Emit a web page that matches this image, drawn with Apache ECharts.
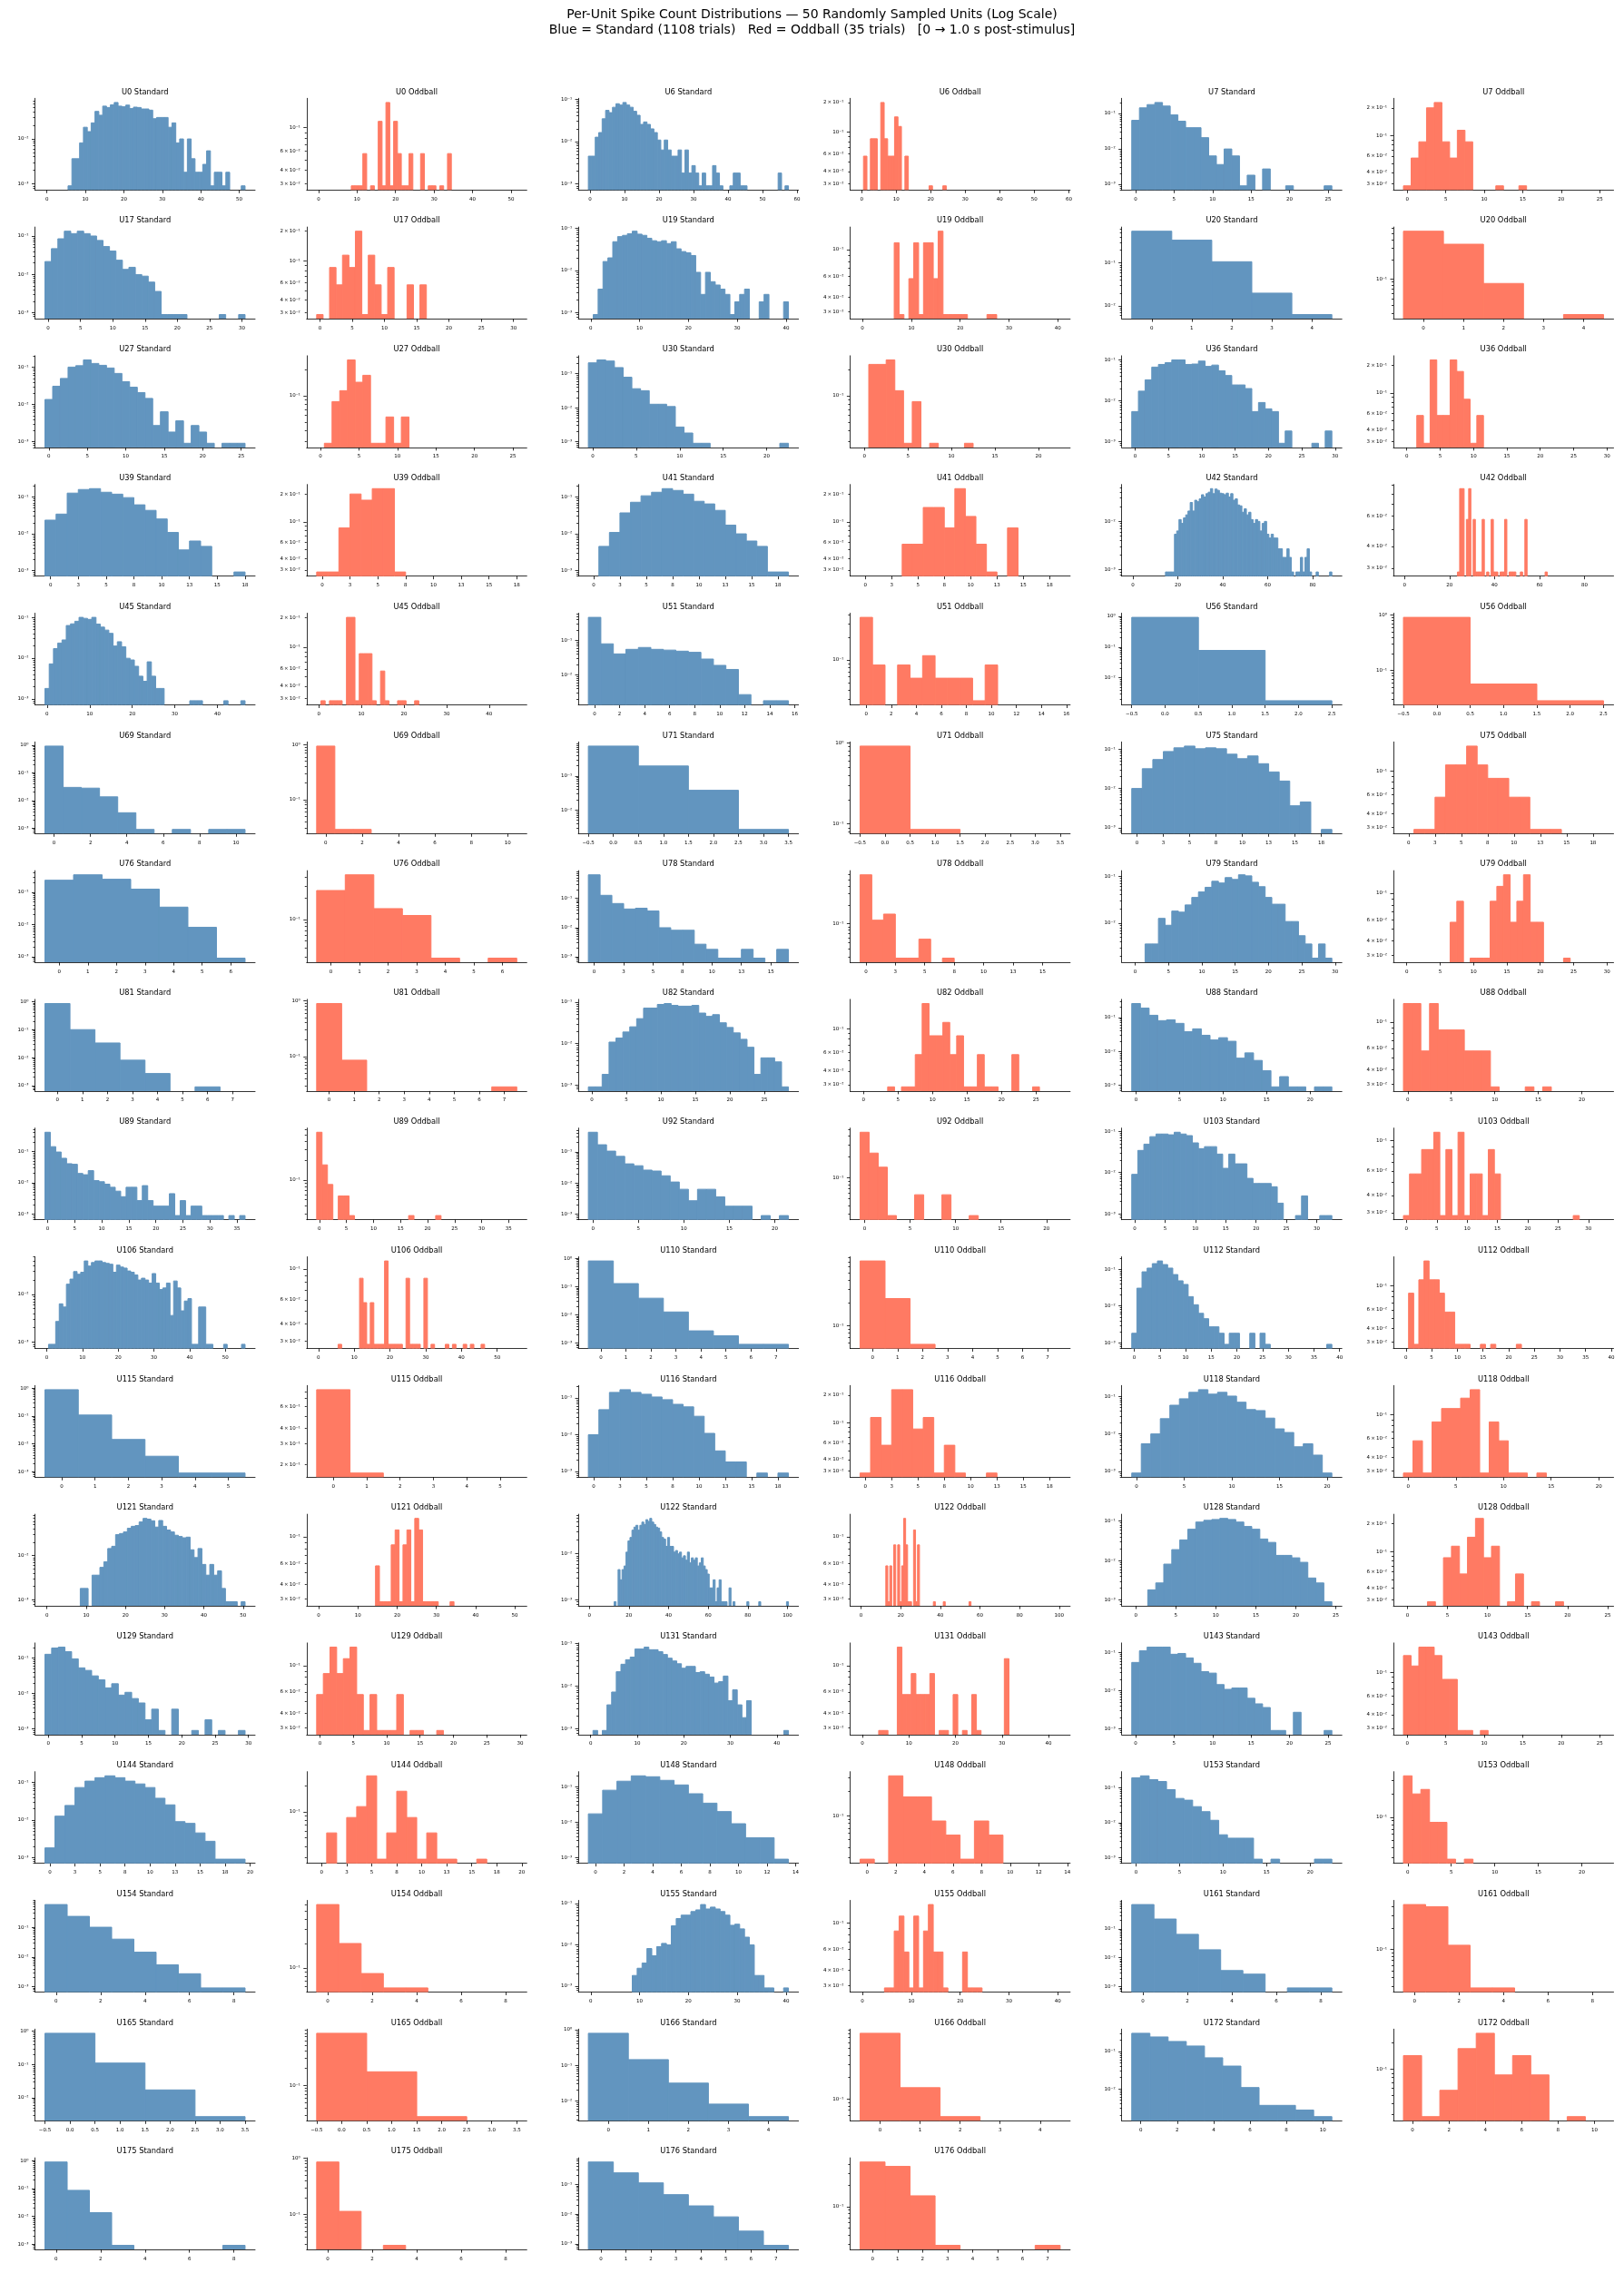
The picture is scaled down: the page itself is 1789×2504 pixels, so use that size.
<!DOCTYPE html>
<html>
<head>
<meta charset="utf-8">
<script src="https://cdn.jsdelivr.net/npm/echarts@6/dist/echarts.min.js"></script>
<style>
  html, body { margin: 0; padding: 0; background: #fff; }
  #chart { width: 1789px; height: 2504px; }
</style>
</head>
<body>
<div id="chart"></div>
<script>
// trials per condition
const nStd = 1108
const nOdd = 35

const unitIds = [0, 6, 7, 17, 19, 20, 27, 30, 36, 39, 41, 42, 45, 51, 56, 69, 71, 75, 76, 78, 79, 81, 82, 88, 89,
  92, 103, 106, 110, 112, 115, 116, 118, 121, 122, 128, 129, 131, 143, 144, 148, 153, 154, 155, 161, 165, 166, 172, 175, 176]
// x tick spacing of each unit (both panels share it)
const xTickSteps = [10, 10, 5, 5, 10, 1, 5, 5, 5, 2.5, 2.5, 20, 10, 2, 0.5, 2, 0.5, 2.5, 1, 2.5, 5, 1, 5, 5, 5,
  5, 5, 10, 1, 5, 1, 2.5, 5, 10, 20, 5, 5, 10, 5, 2.5, 2, 5, 2, 10, 2, 0.5, 1, 2, 2, 1]

// spike-count histograms: trials per count, index = spike count (0, 1, 2, ...)
const u0Std = [0,0,0,0,0,0,1,4,4,9,20,16,25,45,37,59,55,63,71,59,57,62,52,56,55,51,51,48,31,33,33,33,20,25,9,11,2,11,4,2,2,3,6,1,2,2,1,2,0,0,0,1]
const u0Odd = [0,0,0,0,0,0,0,0,0,1,1,1,2,0,1,0,4,1,6,1,4,2,1,1,2,0,0,2,0,1,1,0,1,0,2]
const u6Std = [5,5,14,18,38,60,53,71,86,80,92,80,71,57,46,28,32,28,22,18,12,7,12,7,5,5,7,2,7,2,3,2,1,2,1,1,3,2,1,0,0,1,2,2,1,1,0,0,0,0,0,0,0,0,0,2,0,1]
const u6Odd = [0,2,0,3,3,0,7,3,2,2,5,4,0,2,0,0,0,0,0,0,1,0,0,0,1]
const u7Std = [71,160,198,227,180,101,67,44,44,23,7,4,11,7,1,2,0,3,0,0,1,0,0,0,0,1]
const u7Odd = [1,2,3,7,8,3,2,4,3,0,0,0,1,0,0,1]
const u17Std = [24,52,94,148,128,148,128,111,85,59,45,26,15,17,11,10,7,4,1,1,1,1,0,0,0,0,0,1,0,0,1]
const u17Odd = [1,0,3,2,4,3,7,1,4,2,1,3,0,0,2,0,2]
const u19Std = [0,1,4,18,22,53,70,75,82,94,80,75,64,56,53,56,48,53,36,31,29,25,10,3,10,6,5,4,3,1,2,3,4,0,0,2,3,0,0,0,2]
const u19Odd = [0,0,0,0,0,0,0,4,1,0,2,4,1,4,4,2,5,1,1,1,1,1,0,0,0,0,1,1]
const u20Std = [604,374,118,22,7]
const u20Odd = [19,12,3,0,1]
const u27Std = [15,34,55,111,121,173,139,124,105,75,45,32,23,16,3,7,2,4,1,3,2,1,0,1,1,1]
const u27Odd = [0,1,3,4,9,5,6,1,1,2,1,2]
const u30Std = [230,280,260,167,87,40,35,14,14,12,3,2,1,1,0,0,0,0,0,0,0,0,1]
const u30Odd = [0,8,8,9,4,1,3,0,1,0,0,0,1]
const u36Std = [6,19,36,74,86,95,111,111,86,88,104,77,83,60,46,27,27,22,6,10,7,6,1,2,0,0,0,1,0,2]
const u36Odd = [0,0,2,1,8,2,2,8,6,3,1,2]
const u39Std = [26,38,142,178,188,150,133,107,68,48,28,12,4,7,5,0,0,1]
const u39Odd = [1,1,3,7,6,8,8,1]
const u41Std = [0,5,12,41,80,120,150,188,168,133,85,72,48,19,11,7,5,1,1]
const u41Odd = [0,0,0,0,2,2,5,5,3,8,4,2,1,0,3]
const u42Std = [0,0,0,0,0,0,0,0,0,0,0,0,0,0,0,1,1,1,1,6,7,12,10,13,15,18,27,18,30,28,32,39,35,41,44,52,41,51,48,42,41,39,42,35,41,
  30,32,24,23,17,20,15,17,12,10,12,11,7,10,11,6,5,6,5,5,3,3,2,2,3,2,1,0,1,1,2,1,2,3,1,0,0,1,0,0,0,0,0,1]
const u42Odd = [0,0,0,0,0,0,0,0,0,0,0,0,0,0,0,0,0,0,0,0,0,0,0,0,1,3,3,0,2,3,0,2,1,1,1,2,0,1,0,2,1,1,0,1,1,2,0,1,1,1,0,0,1,0,2,
  0,0,0,0,0,0,0,0,1]
const u45Std = [2,8,19,26,31,70,77,89,111,105,99,111,76,64,54,45,22,28,21,11,10,7,4,3,9,4,2,2,0,0,0,0,0,0,1,1,1,0,0,0,0,0,1,0,0,0,1]
const u45Odd = [0,1,0,1,1,1,0,7,7,1,3,3,3,1,0,2,1,0,0,1,1,0,0,1]
const u51Std = [512,88,45,61,69,61,58,54,50,32,21,16,3,0,2,2]
const u51Odd = [13,3,0,3,2,4,2,2,2,1,3]
const u56Std = [1020,86,2]
const u56Odd = [32,2,1]
const u69Std = [1022,33,31,15,4,1,0,1,0,1,1]
const u69Odd = [33,1,1]
const u71Std = [831,217,42,3]
const u71Odd = [32,3]
const u75Std = [11,35,60,96,119,132,113,119,113,82,63,74,47,29,17,4,5,0,1]
const u75Odd = [0,1,1,2,4,4,6,4,3,3,2,2,1,1,1]
const u76Std = [259,381,277,137,38,9,1]
const u76Odd = [9,15,5,4,1,0,1]
const u78Std = [710,141,74,48,51,41,11,9,9,3,2,1,1,2,1,0,2]
const u78Odd = [21,4,5,1,1,2,0,1]
const u79Std = [0,0,4,4,14,10,20,19,27,39,51,64,86,79,103,94,118,112,82,66,39,28,28,12,12,6,4,2,4,2]
const u79Odd = [0,0,0,0,0,0,0,2,3,0,1,1,1,3,4,5,2,3,5,2,2,0,0,0,1]
const u81Std = [950,111,37,9,3,0,1]
const u81Odd = [31,3,0,0,0,0,0,1]
const u82Std = [1,1,2,12,15,21,28,44,79,79,97,102,92,88,88,92,60,50,55,35,27,20,14,9,2,5,5,4,1]
const u82Odd = [0,0,0,0,1,0,1,1,2,6,3,3,4,2,3,1,1,2,1,1,0,0,2,0,0,1]
const u88Std = [284,208,128,89,94,74,42,51,33,24,28,22,7,10,6,3,1,2,1,1,0,1,1]
const u88Odd = [5,5,2,5,3,3,3,2,2,2,1,0,0,0,1,0,1]
const u89Std = [452,157,106,67,45,43,22,20,27,13,12,10,8,6,4,8,8,3,9,3,2,2,2,5,1,3,1,2,2,1,1,1,1,0,1,0,1]
const u89Odd = [19,6,3,0,2,2,1,0,0,0,0,0,0,0,0,0,0,1,0,0,0,0,1]
const u92Std = [477,189,118,80,46,40,29,27,19,12,7,3,7,7,4,2,2,2,0,1,0,1]
const u92Odd = [16,8,5,1,0,0,2,0,0,2,0,0,1]
const u103Std = [10,38,54,82,95,95,91,105,95,87,58,42,47,47,31,14,31,18,18,8,6,6,6,5,2,0,0,1,3,0,0,1,1]
const u103Odd = [1,2,2,3,3,4,1,3,1,4,1,2,2,1,3,2,0,0,0,0,0,0,0,0,0,0,0,0,1]
const u106Std = [0,1,1,3,7,6,18,23,33,29,32,55,43,51,55,55,51,49,47,32,45,41,39,34,32,28,22,24,22,19,30,19,14,15,19,4,21,15,5,8,
  9,1,1,6,6,1,1,0,0,0,1,0,0,0,0,1]
const u106Odd = [0,0,0,0,0,0,1,0,0,0,0,0,3,2,1,2,1,1,1,4,1,1,1,1,0,3,1,1,1,0,3,0,1,0,0,0,1,0,1,0,0,1,0,1,0,0,1]
const u110Std = [900,142,43,14,3,2,1,1]
const u110Odd = [25,8,2]
const u112Std = [2,34,95,120,159,188,150,120,80,54,43,20,12,7,5,3,3,2,1,2,2,0,0,2,0,2,1,0,0,0,0,0,0,0,0,0,0,0,1]
const u112Odd = [0,3,1,4,6,4,4,3,2,2,1,1,1,0,0,1,0,1,0,0,0,0,1]
const u115Std = [975,120,16,4,1,1]
const u115Odd = [29,6]
const u116Std = [11,53,156,185,156,139,117,99,74,63,35,12,4,2,2,0,1,0,1]
const u116Odd = [1,4,2,8,8,3,4,1,2,1,0,0,1]
const u118Std = [1,6,11,28,64,95,141,166,126,141,112,77,49,46,29,15,12,5,6,3,1]
const u118Odd = [1,2,1,3,4,4,5,6,1,3,2,1,1,0,1]
const u121Std = [0,0,0,0,0,0,0,0,0,2,2,0,4,4,6,8,16,18,33,35,38,46,51,53,64,77,74,68,49,69,51,42,38,32,30,28,29,15,10,16,
  7,4,7,4,5,2,1,1,1,0,1]
const u121Odd = [0,0,0,0,0,0,0,0,0,0,0,0,0,0,0,2,1,1,1,3,4,1,3,4,1,5,4,1,1,1,1,0,0,0,1]
const u122Std = [0,0,0,0,0,0,0,0,0,0,0,0,0,1,0,5,3,5,6,12,21,25,36,42,46,36,46,54,48,61,56,65,54,48,42,40,33,25,23,16,25,16,16,
  12,13,11,12,9,10,8,12,7,9,8,9,6,7,9,6,5,4,2,2,3,1,2,3,1,1,1,0,2,0,1,0,0,0,0,0,0,1,0,0,0,0,0,1,0,0,0,0,0,0,0,0,0,0,0,0,0,1]
const u122Odd = [0,0,0,0,0,0,0,0,0,0,0,0,0,2,1,2,0,3,0,3,1,2,5,3,1,1,0,4,1,3,0,0,0,0,0,0,0,1,0,0,0,0,1,
  0,0,0,0,0,0,0,0,0,0,0,0,1]
const u128Std = [0,0,2,3,9,21,37,69,105,116,122,130,122,105,81,69,39,32,15,15,13,10,4,3,1]
const u128Odd = [0,0,0,1,0,3,4,2,5,8,3,4,0,1,2,0,1,0,0,1]
const u129Std = [143,215,228,170,106,59,50,35,27,16,21,10,12,8,6,2,4,1,0,4,0,0,1,0,2,0,1,0,0,1]
const u129Odd = [2,3,5,3,4,5,2,1,2,1,1,1,2,0,1,1,0,0,1]
const u131Std = [0,1,0,1,4,8,24,36,46,53,82,82,91,79,79,71,61,50,43,37,29,32,32,23,24,21,18,13,14,19,5,9,4,2,5,0,0,0,0,0,0,0,1]
const u131Odd = [0,0,0,0,1,1,0,0,5,2,2,3,2,2,2,3,0,1,1,0,2,0,1,0,2,1,0,0,0,0,0,4]
const u143Std = [61,123,154,154,154,100,105,80,58,35,32,16,12,13,13,7,5,4,1,1,0,3,0,0,0,1]
const u143Odd = [5,4,6,6,5,3,3,1,1,0,1]
const u144Std = [2,14,27,81,120,148,166,148,120,101,81,42,28,10,9,5,3,1,1,1]
const u144Odd = [0,2,0,3,4,9,1,2,6,3,1,2,1,1,0,0,1]
const u148Std = [19,88,158,224,211,167,124,70,38,22,10,4,4,1]
const u148Odd = [1,0,11,6,6,3,2,1,3,2]
const u153Std = [214,244,190,168,98,55,49,32,23,13,5,4,4,4,1,0,1,0,0,0,0,1,1]
const u153Odd = [12,7,8,3,3,1,0,1]
const u154Std = [645,258,111,44,16,6,3,1,1]
const u154Odd = [21,7,3,2,2]
const u155Std = [0,0,0,0,0,0,0,0,0,2,3,4,9,6,10,12,11,32,48,58,58,71,78,105,82,91,82,71,58,33,35,27,17,11,2,2,1,1,0,0,1]
const u155Odd = [0,0,0,0,0,1,1,3,4,2,1,4,1,3,5,2,2,1,0,0,0,2,1,1,1]
const u161Std = [775,244,72,21,4,3,0,1,1]
const u161Odd = [15,14,4,1,1]
const u165Std = [960,122,19,3]
const u165Odd = [28,6,1]
const u166Std = [880,160,35,9,4]
const u166Odd = [28,5,2]
const u172Std = [340,271,205,155,75,45,12,4,4,3,2]
const u172Odd = [5,1,2,6,9,3,5,3,0,1]
const u175Std = [995,95,15,1,0,0,0,0,1]
const u175Odd = [30,4,0,1]
const u176Std = [621,269,124,50,21,9,3,1]
const u176Odd = [15,13,5,1,0,0,0,1]

const stdCounts = [u0Std, u6Std, u7Std, u17Std, u19Std, u20Std, u27Std, u30Std, u36Std, u39Std, u41Std, u42Std, u45Std,
  u51Std, u56Std, u69Std, u71Std, u75Std, u76Std, u78Std, u79Std, u81Std, u82Std, u88Std, u89Std, u92Std, u103Std,
  u106Std, u110Std, u112Std, u115Std, u116Std, u118Std, u121Std, u122Std, u128Std, u129Std, u131Std, u143Std, u144Std,
  u148Std, u153Std, u154Std, u155Std, u161Std, u165Std, u166Std, u172Std, u175Std, u176Std]
const oddCounts = [u0Odd, u6Odd, u7Odd, u17Odd, u19Odd, u20Odd, u27Odd, u30Odd, u36Odd, u39Odd, u41Odd, u42Odd, u45Odd,
  u51Odd, u56Odd, u69Odd, u71Odd, u75Odd, u76Odd, u78Odd, u79Odd, u81Odd, u82Odd, u88Odd, u89Odd, u92Odd, u103Odd,
  u106Odd, u110Odd, u112Odd, u115Odd, u116Odd, u118Odd, u121Odd, u122Odd, u128Odd, u129Odd, u131Odd, u143Odd, u144Odd,
  u148Odd, u153Odd, u154Odd, u155Odd, u161Odd, u165Odd, u166Odd, u172Odd, u175Odd, u176Odd]

const colorStd = '#6295BF' // steelblue at 0.85 on white
const colorOdd = '#FF7A63' // tomato at 0.85 on white
const font = 'DejaVu Sans'

// panel grid (6 columns)
const colX0 = 38.5
const colPitch = 299.3
const panelW = 242.5
const rowY0 = 108.3
const rowPitch = 141.8
const panelH = 101

const SUP = { '-': '\u207B', '0': '\u2070', '1': '\u00B9', '2': '\u00B2', '3': '\u00B3', '4': '\u2074',
  '5': '\u2075', '6': '\u2076', '7': '\u2077', '8': '\u2078', '9': '\u2079' }

function sciLabel (v) {
  v = +v
  const e = Math.floor(Math.log10(v) + 1e-9)
  const m = Math.round(v / Math.pow(10, e))
  const pow = '10' + String(e).split('').map(c => SUP[c]).join('')
  return m === 1 ? pow : m + '\u2009\u00D7\u2009' + pow
}

function xLabel (step) {
  return v => {
    const s = step < 1 ? (+v).toFixed(1) : String(Math.round(+v))
    return s.replace('-', '\u2212')
  }
}

// log ticks like matplotlib: decades major, 2..9 minor, labels depend on decades in view
function logTicks (yMin, yMax) {
  const major = []
  const minor = []
  const labels = []
  const numdec = Math.log10(yMax) - Math.log10(yMin)
  const subset = numdec > 1 ? [1] : numdec > 0.4 ? [1, 2, 3, 4, 6] : [1, 2, 3, 4, 5, 6, 7, 8, 9]
  for (let e = Math.floor(Math.log10(yMin)) - 1; e <= Math.ceil(Math.log10(yMax)); e++) {
    for (let m = 1; m <= 9; m++) {
      const v = +(m * Math.pow(10, e)).toPrecision(12)
      if (v < yMin || v > yMax) continue
      if (m === 1) major.push(v)
      else minor.push(v)
      if (subset.indexOf(m) >= 0) labels.push(v)
    }
  }
  return { major, minor, labels }
}

const axisLineStyle = { color: '#000', width: 0.8 }
const labelStyle = { fontSize: 5.5, color: '#000', fontFamily: font }

const grids = []
const xAxes = []
const yAxes = []
const series = []
const titles = [{
  text: 'Per-Unit Spike Count Distributions \u2014 50 Randomly Sampled Units (Log Scale)\n' +
    'Blue = Standard (1108 trials)   Red = Oddball (35 trials)   [0 \u2192 1.0 s post-stimulus]',
  left: 894.5,
  top: 8,
  textAlign: 'center',
  padding: 0,
  textStyle: { fontSize: 14, lineHeight: 16.7, fontWeight: 'normal', color: '#000', fontFamily: font }
}]

unitIds.forEach((id, u) => {
  const maxBin = Math.max(stdCounts[u].length, oddCounts[u].length) - 1
  const pad = 0.05 * (maxBin + 1)
  const xMin = -0.5 - pad
  const xMax = maxBin + 0.5 + pad
  const step = xTickSteps[u]
  const xTicks = []
  for (let t = Math.ceil(xMin / step) * step; t <= xMax + 1e-9; t += step) xTicks.push(+t.toFixed(3))

  const panels = [
    ['Standard', stdCounts[u], nStd, colorStd],
    ['Oddball', oddCounts[u], nOdd, colorOdd]
  ]
  panels.forEach(([cond, counts, n, color], k) => {
    const p = 2 * u + k
    const row = Math.floor(p / 6)
    const col = p % 6
    const left = colX0 + colPitch * col
    const top = rowY0 + rowPitch * row

    // density histogram, unit-width bins centred on integers
    const bars = []
    counts.forEach((c, b) => {
      if (c > 0) bars.push([b - 0.5, b + 0.5, c / n])
    })
    const dens = bars.map(d => d[2])
    const lo = Math.log10(Math.min.apply(null, dens))
    const hi = Math.log10(Math.max.apply(null, dens))
    const yMin = Math.pow(10, lo - 0.05 * (hi - lo))
    const yMax = Math.pow(10, hi + 0.05 * (hi - lo))
    const ticks = logTicks(yMin, yMax)

    grids.push({ left, top, width: panelW, height: panelH, containLabel: false, outerBoundsMode: 'none' })

    xAxes.push({
      type: 'value',
      gridIndex: p,
      min: xMin,
      max: xMax,
      axisLine: { show: true, onZero: false, lineStyle: axisLineStyle },
      axisTick: { show: true, customValues: xTicks, length: 3.5, lineStyle: axisLineStyle },
      axisLabel: Object.assign({ show: true, customValues: xTicks, formatter: xLabel(step), margin: 7 }, labelStyle),
      splitLine: { show: false }
    })

    yAxes.push({
      type: 'log',
      logBase: 10,
      gridIndex: p,
      position: 'left',
      min: yMin,
      max: yMax,
      axisLine: { show: true, onZero: false, lineStyle: axisLineStyle },
      axisTick: { show: true, customValues: ticks.major, length: 3.5, lineStyle: axisLineStyle },
      axisLabel: Object.assign({ show: true, customValues: ticks.labels, formatter: sciLabel, margin: 7 }, labelStyle),
      splitLine: { show: false }
    })
    // second axis only for the short minor ticks
    yAxes.push({
      type: 'log',
      logBase: 10,
      gridIndex: p,
      position: 'left',
      min: yMin,
      max: yMax,
      axisLine: { show: false, onZero: false },
      axisTick: { show: true, customValues: ticks.minor, length: 2, lineStyle: axisLineStyle },
      axisLabel: { show: false },
      splitLine: { show: false }
    })

    series.push({
      type: 'custom',
      coordinateSystem: 'cartesian2d',
      xAxisIndex: p,
      yAxisIndex: 2 * p,
      silent: true,
      clip: true,
      data: bars,
      encode: { x: [0, 1], y: 2 },
      renderItem: (params, api) => {
        const a = api.coord([api.value(0), api.value(2)])
        const b = api.coord([api.value(1), yMin])
        return {
          type: 'rect',
          shape: { x: a[0], y: a[1], width: b[0] - a[0], height: b[1] - a[1] },
          // same-colour stroke closes the hairline seams between touching bars
          style: { fill: color, stroke: color, lineWidth: 1 }
        }
      }
    })

    titles.push({
      text: 'U' + id + ' ' + cond,
      left: left + panelW / 2,
      top: top - 10.8,
      textAlign: 'center',
      padding: 0,
      textStyle: { fontSize: 8.3, fontWeight: 'normal', color: '#000', fontFamily: font }
    })
  })
})

const chart = echarts.init(document.getElementById('chart'), null, { renderer: 'canvas' })
chart.setOption({
  backgroundColor: '#fff',
  animation: false,
  title: titles,
  grid: grids,
  xAxis: xAxes,
  yAxis: yAxes,
  series: series
})
</script>
</body>
</html>
